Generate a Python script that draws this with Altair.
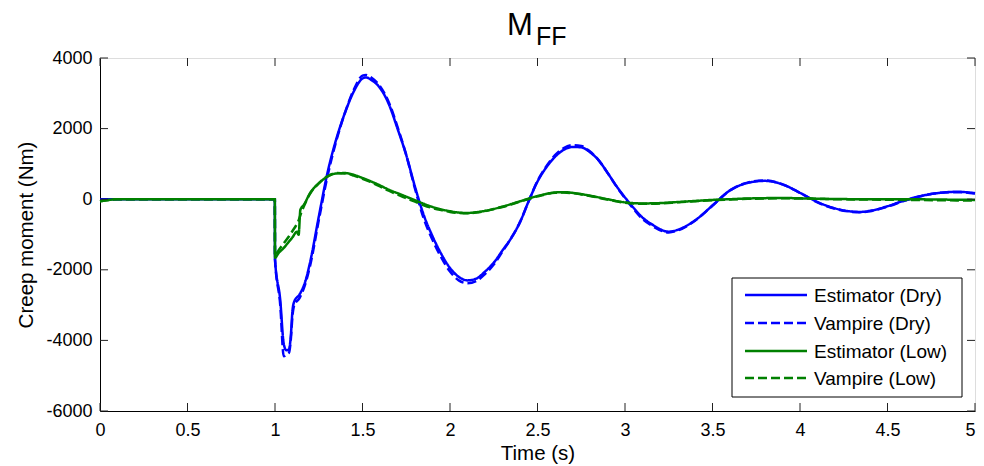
import altair as alt
import pandas as pd

# ---------------- data ----------------
series_names = ["Estimator (Dry)", "Vampire (Dry)", "Estimator (Low)", "Vampire (Low)"]
series_colors = ["#0000FF", "#0000FF", "#008000", "#008000"]
series_dashes = [[1, 0], [9, 4], [1, 0], [9, 4]]

t_dry = [0, 0.5, 0.999, 1.0, 1.03, 1.05, 1.065, 1.08, 1.09, 1.1, 1.11, 1.14, 1.17, 1.2,
         1.25, 1.3, 1.35, 1.4, 1.45, 1.5, 1.52, 1.55, 1.6, 1.65, 1.7, 1.75, 1.8, 1.85,
         1.9, 1.95, 2.0, 2.05, 2.1, 2.15, 2.2, 2.25, 2.3, 2.35, 2.4, 2.45, 2.5, 2.55,
         2.6, 2.65, 2.7, 2.75, 2.8, 2.85, 2.9, 2.95, 3.0, 3.05, 3.1, 3.15, 3.25, 3.3,
         3.4, 3.5, 3.6, 3.7, 3.8, 3.9, 4.0, 4.1, 4.2, 4.3, 4.35, 4.4, 4.5, 4.6, 4.7,
         4.8, 4.9, 5.0]
est_dry = [0, 0, 0, -1700, -2860, -4100, -4280, -4250, -3900, -3150, -2900, -2700, -2380, -1800,
           -500, 750, 1700, 2450, 3050, 3420, 3450, 3380, 3150, 2700, 2000, 1250, 350, -450,
           -1050, -1550, -1950, -2200, -2300, -2250, -2050, -1800, -1450, -1100, -650, -50, 500, 900,
           1200, 1400, 1480, 1470, 1330, 1100, 750, 380, 50, -250, -520, -700, -920, -870,
           -600, -180, 250, 460, 520, 420, 180, -80, -260, -350, -360, -330, -200, -30, 100,
           180, 210, 170]
vamp_dry = [0, 0, 0, -1700, -3000, -4450, -4400, -4350, -4000, -3300, -3000, -2800, -2450, -1900,
            -600, 650, 1650, 2450, 3100, 3500, 3520, 3450, 3200, 2750, 2050, 1250, 300, -550,
            -1150, -1650, -2050, -2300, -2380, -2320, -2120, -1850, -1480, -1100, -650, -50, 520, 930,
            1250, 1450, 1530, 1510, 1350, 1100, 750, 370, 30, -280, -560, -740, -940, -890,
            -610, -180, 250, 470, 530, 420, 180, -90, -270, -360, -370, -340, -210, -40, 100,
            180, 200, 160]

t_low = [0, 0.05, 0.1, 0.5, 0.999, 1.0, 1.02, 1.05, 1.08, 1.1, 1.125, 1.135, 1.145, 1.165,
         1.2, 1.25, 1.3, 1.35, 1.4, 1.45, 1.5, 1.55, 1.6, 1.65, 1.7, 1.75, 1.8, 1.85, 1.9,
         1.95, 2.0, 2.05, 2.1, 2.15, 2.2, 2.3, 2.4, 2.5, 2.6, 2.65, 2.7, 2.8, 2.9, 3.0, 3.1,
         3.2, 3.3, 3.4, 3.5, 3.6, 3.7, 3.8, 3.9, 4.0, 4.2, 4.4, 4.6, 4.8, 5.0]
est_low = [-60, -20, 0, 0, 0, -1660, -1530, -1380, -1200, -1080, -920, -1010, -300, -160,
           170, 450, 640, 730, 740, 690, 600, 500, 390, 270, 170, 70, -30, -130, -220,
           -290, -340, -380, -390, -370, -330, -210, -60, 90, 190, 200, 180, 100, 0, -90, -120,
           -110, -80, -50, -20, 0, 20, 30, 35, 25, 5, 0, 0, -10, -20]
vamp_low = [-60, -20, 0, 0, 0, -1600, -1450, -1250, -1050, -900, -700, -600, -450, -200,
            150, 450, 650, 740, 730, 670, 580, 480, 360, 240, 130, 30, -70, -170, -250,
            -310, -360, -390, -400, -380, -340, -220, -70, 80, 180, 190, 170, 90, -10, -100, -130,
            -120, -90, -60, -30, -10, 10, 20, 25, 20, 0, -10, -20, -30, -40]

x_ticks = [0, 0.5, 1, 1.5, 2, 2.5, 3, 3.5, 4, 4.5, 5]
y_ticks = [-6000, -4000, -2000, 0, 2000, 4000]
x_title = "Time (s)"
y_title = "Creep moment (Nm)"
title_main = "M"
title_sub = "FF"

# ---------------- table ----------------
rows = []
for name, ts, vs in [(series_names[0], t_dry, est_dry), (series_names[1], t_dry, vamp_dry),
                     (series_names[2], t_low, est_low), (series_names[3], t_low, vamp_low)]:
    for t, v in zip(ts, vs):
        rows.append({"time": t, "moment": v, "series": name})
df = pd.DataFrame(rows)
xt_df = pd.DataFrame({"tick": x_ticks})
yt_df = pd.DataFrame({"tick": y_ticks})
leg_df = pd.DataFrame({"series": series_names})

FONT = "Liberation Sans"
W, H = 875, 353
TICK_LEN = 8

x_scale = alt.Scale(domain=[0, 5], nice=False, zero=False)
y_scale = alt.Scale(domain=[-6000, 4000], nice=False, zero=False)

x_axis = alt.Axis(values=x_ticks, title=x_title, labelExpr="toString(datum.value)",
                  labelFont=FONT, labelFontSize=18, labelColor="black",
                  labelAlign={"condition": {"test": "datum.value == 5", "value": "right"},
                              "value": "center"},
                  titleFont=FONT, titleFontSize=20.5, titleFontWeight="normal", titleColor="black",
                  domainColor="black", domainWidth=1, ticks=False, grid=False,
                  labelPadding=10, titlePadding=4, labelFlush=False, labelOverlap=False)
y_axis = alt.Axis(values=y_ticks, title=y_title, labelExpr="toString(datum.value)",
                  labelFont=FONT, labelFontSize=18, labelColor="black",
                  titleFont=FONT, titleFontSize=20.5, titleFontWeight="normal", titleColor="black",
                  domainColor="black", domainWidth=1, ticks=False, grid=False,
                  labelPadding=8, titlePadding=9, labelFlush=False, labelOverlap=False)

color_scale = alt.Scale(domain=series_names, range=series_colors)
dash_scale = alt.Scale(domain=series_names, range=series_dashes)

base = alt.Chart(df)
layers = []
for i, name in enumerate(series_names):
    layers.append(
        base.transform_filter(alt.datum.series == name)
        .mark_line(strokeWidth=2.5, interpolate="monotone")
        .encode(
            x=alt.X("time:Q", scale=x_scale, axis=x_axis),
            y=alt.Y("moment:Q", scale=y_scale, axis=y_axis),
            color=alt.Color("series:N", scale=color_scale, legend=None),
            strokeDash=alt.StrokeDash("series:N", scale=dash_scale, legend=None),
        )
    )

tick_color = "#222222"
xt_bottom = alt.Chart(xt_df).mark_rule(color=tick_color, strokeWidth=1).encode(
    x=alt.X("tick:Q", scale=x_scale, axis=x_axis), y=alt.value(H), y2=alt.value(H - TICK_LEN))
xt_top = alt.Chart(xt_df).mark_rule(color=tick_color, strokeWidth=1).encode(
    x=alt.X("tick:Q", scale=x_scale, axis=x_axis), y=alt.value(0), y2=alt.value(TICK_LEN))
yt_left = alt.Chart(yt_df).mark_rule(color=tick_color, strokeWidth=1).encode(
    y=alt.Y("tick:Q", scale=y_scale, axis=y_axis), x=alt.value(0), x2=alt.value(TICK_LEN))
yt_right = alt.Chart(yt_df).mark_rule(color=tick_color, strokeWidth=1).encode(
    y=alt.Y("tick:Q", scale=y_scale, axis=y_axis), x=alt.value(W), x2=alt.value(W - TICK_LEN))

# ---------------- legend (drawn by hand, MATLAB style) ----------------
LX0, LX1, LY0, LY1 = 632, 862, 220, 339
leg_layers = [
    alt.Chart(leg_df.head(1)).mark_rect(fill="white", stroke="black", strokeWidth=1).encode(
        x=alt.value(LX0), x2=alt.value(LX1), y=alt.value(LY0), y2=alt.value(LY1))
]
row_y = [237, 265, 293, 320]
for i, name in enumerate(series_names):
    one = leg_df[leg_df.series == name]
    leg_layers.append(
        alt.Chart(one).mark_rule(strokeWidth=2.5, color=series_colors[i],
                                 strokeDash=series_dashes[i]).encode(
            x=alt.value(645), x2=alt.value(707), y=alt.value(row_y[i])))
    leg_layers.append(
        alt.Chart(one).mark_text(font=FONT, fontSize=19, align="left", baseline="middle",
                                 color="black").encode(
            text="series:N", x=alt.value(714), y=alt.value(row_y[i] + 1)))

title_df = pd.DataFrame({"main": [title_main], "sub": [title_sub]})
t_main = alt.Chart(title_df).mark_text(font=FONT, fontSize=31, align="left", baseline="alphabetic",
                                       color="black").encode(
    text="main:N", x=alt.value(407), y=alt.value(-23))
t_sub = alt.Chart(title_df).mark_text(font=FONT, fontSize=25, align="left", baseline="alphabetic",
                                      color="black").encode(
    text="sub:N", x=alt.value(436), y=alt.value(-13))

chart = alt.layer(*layers, xt_bottom, xt_top, yt_left, yt_right, *leg_layers, t_main, t_sub).properties(
    width=W, height=H,
    autosize=alt.AutoSizeParams(type="none"),
    padding={"left": 92, "top": 50, "right": 1, "bottom": 56},
).configure_view(stroke="black", strokeWidth=1).configure(background="white")

chart.save("out.html", embed_options={"renderer": "svg", "actions": False})
